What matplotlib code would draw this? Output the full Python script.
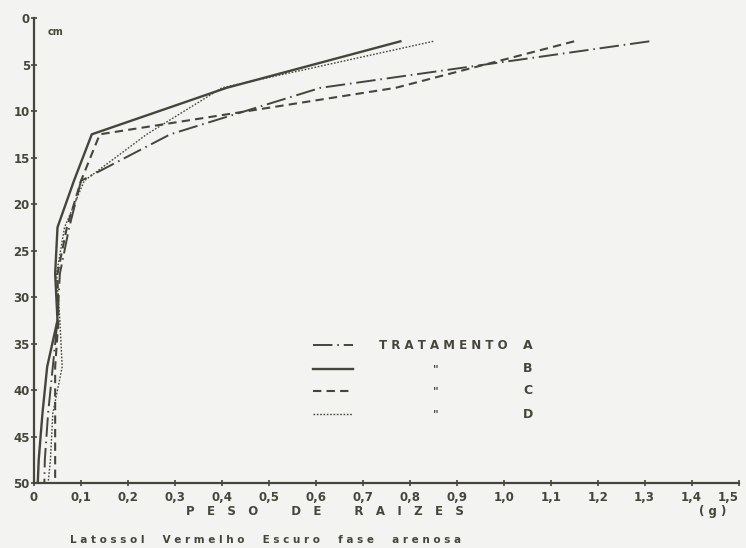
import numpy as np
import matplotlib
matplotlib.use("Agg")
import matplotlib.pyplot as plt

# profundidade (cm) e peso de raizes (g) por tratamento
profundidade = [2.5, 7.5, 12.5, 17.5, 22.5, 27.5, 32.5, 37.5, 42.5, 47.5, 50]
trat_A = [1.31, 0.61, 0.29, 0.100, 0.075, 0.055, 0.050, 0.040, 0.030, 0.023, 0.022]
trat_B = [0.78, 0.41, 0.123, 0.085, 0.050, 0.045, 0.050, 0.028, 0.018, 0.010, 0.008]
trat_C = [1.15, 0.77, 0.14, 0.100, 0.070, 0.050, 0.052, 0.045, 0.045, 0.045, 0.045]
trat_D = [0.85, 0.40, 0.24, 0.107, 0.065, 0.048, 0.055, 0.060, 0.040, 0.035, 0.030]

x_ticks = [0, 0.1, 0.2, 0.3, 0.4, 0.5, 0.6, 0.7, 0.8, 0.9, 1.0, 1.1, 1.2, 1.3, 1.4, 1.5]
x_labels = ['0', '0,1', '0,2', '0,3', '0,4', '0,5', '0,6', '0,7', '0,8', '0,9',
            '1,0', '1,1', '1,2', '1,3', '1,4', '1,5']
y_ticks = [0, 5, 10, 15, 20, 25, 30, 35, 40, 45, 50]

ink = '#45453c'
bg = '#f3f3f1'

fig = plt.figure(figsize=(7.46, 5.48), dpi=100, facecolor=bg)
ax = fig.add_axes([0.0456, 0.1186, 0.9444, 0.8484], facecolor=bg)

ax.plot(trat_A, profundidade, color=ink, lw=1.4, dashes=(10, 2.5, 0.8, 2.5))
ax.plot(trat_B, profundidade, color=ink, lw=1.7)
ax.plot(trat_C, profundidade, color=ink, lw=1.5, dashes=(4, 2.5))
ax.plot(trat_D, profundidade, color=ink, lw=1.0, dashes=(1.2, 1.2))

ax.set_xlim(0, 1.5)
ax.set_ylim(50, 0)
ax.set_xticks(x_ticks)
ax.set_xticklabels(x_labels)
ax.set_yticks(y_ticks)

for s in ['top', 'right']:
    ax.spines[s].set_visible(False)
for s in ['left', 'bottom']:
    ax.spines[s].set_color(ink)
    ax.spines[s].set_linewidth(1.6)

ax.tick_params(axis='both', colors=ink, labelcolor=ink, width=1.2, length=4,
               direction='inout', labelsize=8.5)
ax.tick_params(axis='y', pad=1)
for lab in ax.get_xticklabels() + ax.get_yticklabels():
    lab.set_fontweight('bold')
ax.get_xticklabels()[-1].set_horizontalalignment('right')

ax.text(0.03, 1.5, 'cm', color=ink, fontsize=7, fontweight='bold', va='center')

# legenda
leg_x = [0.595, 0.68]
leg_y = [35.2, 37.7, 40.1, 42.6]
estilos = [dict(lw=1.4, dashes=(10, 2.5, 0.8, 2.5)), dict(lw=1.7),
           dict(lw=1.5, dashes=(4, 2.5)), dict(lw=1.0, dashes=(1.2, 1.2))]
nomes = ['A', 'B', 'C', 'D']
for yy, st, nm in zip(leg_y, estilos, nomes):
    ax.plot(leg_x, [yy, yy], color=ink, **st)
    ax.text(1.052, yy, nm, color=ink, fontsize=9, fontweight='bold', va='center', ha='center')
ax.text(0.735, leg_y[0], 'T R A T A M E N T O', color=ink, fontsize=8.5,
        fontweight='bold', va='center', ha='left')
for yy in leg_y[1:]:
    ax.text(0.855, yy, '"', color=ink, fontsize=8, fontweight='bold', va='center', ha='center')

fig.text(0.436, 0.066, 'P   E   S   O        D   E        R   A   I   Z   E   S', color=ink,
         fontsize=8.5, fontweight='bold', ha='center', va='center')
fig.text(0.955, 0.066, '( g )', color=ink, fontsize=8.5, fontweight='bold',
         ha='center', va='center')
fig.text(0.094, 0.015, 'L a t o s s o l     V e r m e l h o     E s c u r o     f a s e     a r e n o s a',
         color=ink, fontsize=7.5, fontweight='bold', ha='left', va='center')

fig.savefig('out.png', dpi=100, facecolor=bg)
